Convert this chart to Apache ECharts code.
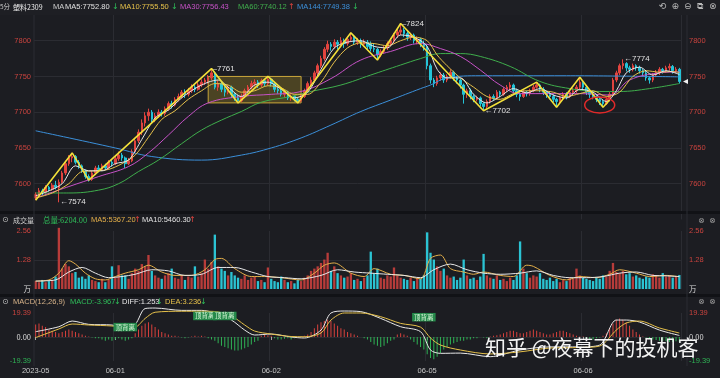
<!DOCTYPE html>
<html><head><meta charset="utf-8">
<script src="https://cdn.jsdelivr.net/npm/echarts@6/dist/echarts.min.js"></script>
<style>html,body{margin:0;padding:0;background:#1c1d22;}#c{width:720px;height:378px;}</style>
</head><body><div id="c"></div><script>
// ---------- data ----------
const dayStarts = [0, 24, 71, 118, 165];
const dayLabels = ['2023-05', '06-01', '06-02', '06-05', '06-06'];
// [open, close, low, high] per 5-minute bar
const candles = [
[7580,7585,7577,7588],[7585,7590,7583,7594],[7590,7588,7584,7593],[7588,7595,7586,7598],[7595,7592,7589,7597],
[7592,7598,7590,7601],[7598,7595,7592,7604],[7594,7602,7574,7606],[7602,7615,7600,7618],[7615,7628,7612,7632],
[7628,7636,7625,7640],[7636,7638,7630,7643],[7638,7630,7627,7640],[7630,7625,7621,7633],[7625,7618,7615,7627],
[7618,7610,7607,7620],[7610,7606,7603,7613],[7606,7615,7604,7618],[7615,7622,7612,7625],[7622,7620,7616,7626],
[7620,7625,7618,7628],[7625,7622,7619,7628],[7622,7630,7620,7633],[7630,7628,7624,7634],[7628,7635,7626,7639],
[7635,7640,7632,7645],[7640,7636,7632,7643],[7636,7628,7622,7638],[7628,7632,7626,7636],[7632,7645,7630,7648],
[7645,7660,7643,7663],[7660,7672,7657,7676],[7672,7685,7668,7690],[7685,7695,7680,7700],[7695,7700,7688,7705],
[7700,7690,7686,7703],[7690,7695,7686,7699],[7695,7700,7692,7704],[7700,7698,7694,7703],[7698,7705,7695,7708],
[7705,7712,7702,7715],[7712,7710,7705,7716],[7710,7718,7708,7721],[7718,7722,7715,7726],[7722,7728,7719,7731],
[7728,7725,7720,7732],[7725,7730,7722,7734],[7730,7735,7727,7739],[7735,7732,7728,7738],[7732,7738,7730,7742],
[7738,7742,7735,7746],[7742,7745,7738,7748],[7745,7748,7740,7752],[7748,7755,7745,7761],[7755,7735,7732,7757],
[7735,7740,7730,7744],[7740,7732,7728,7743],[7732,7728,7722,7736],[7728,7735,7725,7738],[7735,7725,7720,7737],
[7725,7720,7716,7728],[7720,7716,7713,7724],[7716,7722,7714,7726],[7722,7730,7720,7733],[7730,7735,7727,7738],
[7735,7740,7732,7744],[7740,7742,7736,7746],[7742,7738,7734,7745],[7738,7744,7735,7747],[7744,7740,7736,7746],
[7740,7746,7737,7750],[7746,7740,7736,7748],[7740,7732,7728,7742],[7732,7730,7726,7735],[7730,7725,7722,7733],
[7725,7728,7721,7731],[7728,7720,7717,7730],[7720,7722,7716,7725],[7722,7718,7715,7724],[7718,7716,7713,7721],
[7716,7722,7714,7725],[7722,7730,7720,7733],[7730,7740,7728,7743],[7740,7745,7736,7749],[7745,7755,7742,7758],
[7755,7765,7752,7768],[7765,7775,7762,7779],[7775,7788,7772,7791],[7788,7795,7784,7800],[7795,7792,7786,7798],
[7792,7798,7789,7802],[7798,7795,7788,7801],[7795,7800,7792,7805],[7800,7796,7790,7803],[7796,7802,7793,7806],
[7802,7805,7798,7811],[7805,7798,7794,7807],[7798,7800,7794,7804],[7800,7795,7790,7803],[7795,7798,7791,7802],
[7798,7792,7788,7801],[7796,7789,7785,7799],[7789,7788,7784,7796],[7788,7780,7773,7790],[7780,7785,7777,7788],
[7785,7790,7782,7793],[7790,7796,7787,7799],[7796,7800,7792,7804],[7800,7808,7797,7811],[7808,7812,7804,7816],
[7812,7815,7808,7824],[7815,7810,7805,7818],[7810,7805,7800,7813],[7805,7808,7801,7811],[7808,7800,7796,7810],
[7800,7802,7795,7806],[7802,7796,7791,7804],[7796,7792,7786,7800],[7792,7765,7760,7795],[7765,7745,7740,7768],
[7745,7740,7735,7748],[7740,7748,7737,7751],[7748,7752,7744,7756],[7752,7745,7741,7755],[7745,7750,7742,7753],
[7750,7756,7747,7760],[7756,7748,7744,7758],[7748,7745,7740,7751],[7745,7738,7733,7747],[7738,7725,7712,7740],
[7725,7730,7720,7733],[7730,7722,7718,7733],[7722,7718,7714,7725],[7718,7720,7715,7723],[7720,7712,7708,7722],
[7712,7708,7702,7714],[7708,7715,7705,7718],[7715,7722,7712,7725],[7722,7720,7716,7725],[7720,7728,7718,7731],
[7728,7725,7721,7730],[7725,7732,7723,7735],[7732,7735,7728,7738],[7735,7738,7731,7742],[7738,7730,7726,7740],
[7730,7725,7721,7733],[7725,7722,7716,7728],[7722,7728,7720,7731],[7728,7726,7722,7730],[7726,7730,7723,7733],
[7730,7735,7728,7738],[7735,7738,7733,7742],[7738,7732,7728,7740],[7732,7728,7724,7735],[7728,7725,7720,7730],
[7725,7722,7718,7728],[7722,7718,7714,7725],[7718,7715,7707,7720],[7715,7720,7712,7723],[7720,7725,7717,7728],
[7725,7722,7718,7728],[7722,7728,7720,7731],[7728,7730,7725,7734],[7730,7735,7727,7738],[7735,7742,7732,7749],
[7742,7735,7731,7744],[7735,7728,7724,7738],[7728,7725,7720,7730],[7725,7722,7718,7728],[7722,7718,7714,7724],
[7718,7715,7710,7720],[7715,7712,7707,7717],[7712,7718,7710,7721],[7718,7725,7715,7728],[7725,7745,7723,7748],
[7745,7755,7742,7758],[7755,7765,7752,7768],[7765,7768,7760,7774],[7768,7762,7757,7770],[7762,7760,7755,7765],
[7760,7765,7757,7768],[7765,7762,7758,7767],[7762,7758,7754,7765],[7758,7755,7750,7761],[7755,7748,7744,7758],
[7748,7745,7740,7750],[7745,7752,7742,7755],[7752,7756,7749,7759],[7756,7760,7752,7763],[7760,7758,7754,7762],
[7758,7762,7755,7765],[7762,7764,7758,7768],[7764,7758,7754,7766],[7758,7760,7755,7763],[7760,7743,7740,7762]
];
// volume, in 10k lots (万)
const volumes = [
.35,.3,.4,.3,.35,.4,.55,2.7,.9,1.1, 1.0,.7,.75,.5,.55,.45,.6,.4,.35,.3,
.45,.3,.4,1.0,.5,1.05,.6,.6,.45,.7, .9,.8,1.1,1.0,1.5,.8,.6,.5,.45,.6,
.7,.9,.5,.45,.6,.4,.55,.5,1.0,.55, .7,1.3,.9,1.2,2.4,1.0,.9,.8,.6,.75,
.6,.5,.45,.6,.4,.5,.55,.35,.4,.3, .95,.45,.35,.3,.55,.4,.3,.35,.25,.4,
.35,.5,.6,.8,.9,1.0,1.15,1.3,1.6,.8, 1.0,.7,.6,.5,.55,.7,.4,.45,.35,.5,
.6,1.65,.7,.9,.5,.45,.6,.55,.95,.6, .5,.45,.4,.5,.35,.5,.45,.6,2.5,1.6,
1.3,1.0,.8,.9,.6,.5,.55,.4,.5,1.3, .6,.45,.5,.4,.55,1.55,.6,.5,.45,.6,
.4,.45,.35,.5,.4,.6,2.1,.9,.7,.5, .6,.55,.7,.45,.4,.5,.35,.45,.3,.4,
.35,.5,.45,.9,.6,.5,.45,.4,.35,.5, .45,.6,.55,.8,1.15,.75,.7,.8,.65,.7,
.55,.6,.5,.45,.55,.5,.65,.6,.5,.7, .55,.6,.5,.55,.62
];
const macdHist = [
10,11,9,8, 6,5,4, 3,4,5,6,5,4,3,2, 1,.5,-.5,-1,-1,
-2,-3,-2,-3,-2,-1,-2,-3,-2,-1, 3,6,9,11,12,10,8,6,4,3,
2,1,1,.5,-.5,-1,-.5,.5,1,.5, 1,.5,-1,-2,
-3,-5,-7,-8,-9,-10,-11,-11,-10,-9,-8,-6,-4,-3, 1,2,1.5,1,
-1,-2,-2,-1.5,-1,-2,-1,-.5, .5,1,2,
4,7,10,12,13,14,13,11,9,7,6,4,3,2, 1,0,-1,-2,
-4,-6,-7,-8,-7,-5,-3,-2, 2,3,2,1, -2,-4,-6,-8,-10,
-14,-17,-18,-16,-13,-10,-8, -6,-5,-4,-3,-3,-2,-2,-1,-1, 0,-.5,-1,.5,1,1.5,
2,3,4,5,5,4,3,3,4,5,6,5,4,3,2,2,3,4,5,5,4,3,2,1,.5,.5,-1,-2,-2,-1,-.5,
1,3,7,11,14,15,14,12,9,6,4,2, .5,-.5,-1,-2,-2.5,-3,-3,-3.5,-4,-4,-3.5,-4
];
const diffLine = [[0,4.3],[7,8.3],[11,12.9],[16,10.2],[23,9.7],[27,7],[30,10.2],[33,23],[36,23.4],[44,21.5],[50,21.5],[54,19.4],[59,13.7],[63,5.6],[66,1.6],[71,2.4],[77,0],[81,-0.8],[86,5.6],[89,19.4],[93,21],[98,20.5],[104,15],[110,8.3],[116,4.3],[119,-10.5],[122,-13.2],[128,-13],[137,-15.9],[146,-10.5],[155,-8],[164,-8],[170,-6.5],[175,13.7],[178,13.7],[182,12.1],[188,5.6],[194,1.25]];
const deaLine = [[0,-0.5],[7,6.5],[11,10.5],[16,9.7],[23,8.9],[27,7.7],[30,8],[33,15],[36,20],[44,20.8],[50,20.8],[54,20.6],[59,17],[63,9.7],[66,4.8],[71,2.4],[77,0.4],[81,0.2],[86,3.2],[89,13.7],[93,19.4],[98,19.4],[104,16.4],[110,11],[116,8],[119,-0.8],[122,-6.5],[128,-10.5],[137,-13.7],[146,-12],[155,-8.9],[164,-8.5],[170,-7.3],[175,5.6],[178,11.3],[182,12.9],[188,7.3],[194,3.24]];
const ma5 = [[0,7583],[4,7590],[8,7600],[12,7625],[16,7618],[20,7618],[24,7628],[28,7633],[32,7662],[36,7692],[40,7703],[44,7720],[48,7733],[52,7742],[55,7745],[58,7735],[62,7722],[66,7738],[70,7742],[74,7732],[78,7720],[82,7728],[86,7760],[90,7790],[94,7798],[98,7800],[102,7792],[106,7790],[110,7808],[114,7805],[118,7792],[121,7760],[124,7748],[128,7748],[132,7725],[136,7713],[140,7722],[144,7733],[148,7727],[152,7733],[156,7724],[160,7720],[164,7732],[168,7728],[172,7715],[175,7730],[178,7755],[182,7763],[186,7752],[190,7758],[194,7752.8]];
const ma10 = [[0,7580],[5,7587],[10,7600],[14,7617],[18,7618],[22,7620],[26,7628],[30,7640],[34,7665],[38,7690],[42,7702],[46,7718],[50,7730],[54,7740],[58,7738],[62,7728],[66,7730],[70,7737],[74,7734],[78,7725],[82,7725],[86,7742],[90,7770],[94,7790],[98,7797],[102,7796],[106,7793],[110,7800],[114,7805],[118,7800],[121,7780],[124,7765],[128,7748],[132,7735],[136,7722],[140,7718],[144,7726],[148,7730],[152,7730],[156,7728],[160,7722],[164,7726],[168,7730],[172,7722],[176,7728],[180,7750],[184,7758],[188,7756],[192,7757],[194,7755.5]];
const ma30 = [[0,7580],[10,7596],[19,7610],[28,7624],[34,7643],[40,7668],[46,7694],[52,7713],[62,7722],[71,7725],[80,7729],[89,7747],[98,7773],[107,7785],[116,7796],[122,7789],[128,7778],[134,7759],[140,7738],[146,7726],[164,7726],[173,7724],[179,7745],[188,7755],[194,7756.4]];
const ma60 = [[0,7587],[10,7587],[19,7591],[25,7600],[31,7617],[37,7633],[44,7656],[50,7675],[56,7689],[62,7701],[68,7714],[77,7722],[83,7729],[92,7738],[101,7752],[110,7766],[116,7775],[122,7782],[128,7782],[134,7778],[143,7764],[152,7743],[161,7733],[170,7729],[176,7729],[185,7733],[194,7740.1]];
const ma144 = [[0,7674],[24,7650],[35,7638],[50,7633],[62,7640],[71,7650],[80,7664],[89,7682],[98,7701],[107,7717],[116,7733],[119,7738],[124,7748],[134,7751],[160,7751],[194,7749.4]];
const volMa5 = [[0,.35],[4,.4],[7,.7],[10,1.25],[12,1.1],[15,.7],[18,.45],[21,.4],[24,.55],[27,.7],[31,.85],[34,1.05],[38,.75],[42,.6],[47,.6],[51,.85],[54,1.3],[56,1.35],[60,.9],[65,.55],[69,.55],[74,.5],[80,.4],[84,.7],[87,1.05],[90,1.15],[95,.7],[99,.55],[102,.9],[107,.65],[111,.6],[116,.45],[119,1.35],[122,1.5],[125,.9],[129,.75],[132,.65],[135,.75],[140,.6],[144,.55],[148,1.05],[150,1.0],[155,.6],[160,.4],[164,.55],[169,.5],[173,.65],[176,.85],[181,.7],[185,.55],[190,.6],[194,.54]];
const volMa10 = [[0,.35],[6,.4],[10,.75],[14,.95],[18,.7],[22,.5],[26,.55],[30,.65],[35,.85],[40,.8],[45,.6],[50,.65],[55,.95],[60,.95],[65,.75],[70,.55],[75,.5],[80,.45],[86,.6],[91,.85],[96,.75],[101,.7],[106,.65],[111,.6],[116,.5],[120,.85],[125,1.1],[130,.85],[135,.7],[140,.65],[146,.7],[151,.8],[156,.6],[161,.5],[166,.5],[171,.55],[176,.7],[181,.75],[186,.6],[190,.58],[194,.55]];
// hand-drawn annotations (category index, price)
const zigzag = [[0,7577],[11,7643],[16,7605],[53,7761],[61,7713],[70,7750],[79,7713],[95,7811],[103,7773],[110,7824],[135,7702],[151,7742],[157,7707],[164,7749],[171,7707],[173,7717]];
const boxRange = [[52,7750],[80,7713]];
const extremes = [[7,7574,'←7574'],[53,7761,'–7761'],[110,7824,'–7824'],[135,7702,'←7702'],[177,7774,'←7774']];
const circleAt = [170,7710];
const lastPrice = [194,7743];
const divergenceTags = [[27,8],[51,17],[57,17],[117,16]];
const divergenceLine = [[90,19.8],[114,19.8]];

// ---------- chart ----------
const FONT = "'Liberation Sans', 'Noto Sans CJK SC', sans-serif";
const CJK = "'Noto Sans CJK SC', sans-serif";
const UP = '#e2443f', DOWN = '#25c4d8', GRIDC = '#2b2c32', RED = '#c8433e', GREEN = '#2fb355';
const categories = candles.map((c, i) => String(i));
const chart = echarts.init(document.getElementById('c'), null, {renderer: 'canvas'});

const grids = [
  {left: 34, width: 647, top: 4.95, height: 214.5},
  {left: 34, width: 647, top: 231, height: 58},
  {left: 34, width: 647, top: 313, height: 48}
];
function xAx(gi, show) {
  return {type: 'category', gridIndex: gi, data: categories, boundaryGap: true,
    axisLine: {show: false},
    axisTick: {show: show, alignWithLabel: true, interval: (i) => dayStarts.includes(i), length: 3, lineStyle: {color: '#aaa'}},
    axisLabel: {show: show, interval: (i) => dayStarts.includes(i), formatter: (v, i) => { const k = dayStarts.indexOf(i); return k >= 0 ? dayLabels[k] : ''; },
      color: '#c8c8c8', fontSize: 7.5, margin: 6, fontFamily: FONT},
    splitLine: {show: true, interval: (i) => dayStarts.includes(i) && i > 0, lineStyle: {color: GRIDC, width: 1}}};
}
const rich = {r: {color: RED, fontSize: 7.5, fontFamily: FONT}, w: {color: '#dcdcdc', fontSize: 7.5, fontFamily: CJK}, g: {color: GREEN, fontSize: 7.5, fontFamily: FONT}};
function yAx(gi, pos, min, max, interval, fmt, split, margin) {
  return {type: 'value', gridIndex: gi, position: pos, min, max, interval,
    axisLine: {show: false}, axisTick: {show: false},
    axisLabel: {formatter: fmt, fontSize: 7.5, margin, fontFamily: FONT, color: RED, rich},
    splitLine: {show: split, showMinLine: false, showMaxLine: false, lineStyle: {color: GRIDC}}};
}
const priceFmt = (v) => (v < 7600 || v > 7800) ? '' : '{r|' + v + '}';
const volFmt = (v) => v === 0 ? '{w|万}' : '{r|' + v.toFixed(2) + '}';
const macdFmt = (v) => Math.abs(v) < 1e-6 ? '{w|0.00}' : (v > 0 ? '{r|' + v.toFixed(2) + '}' : '{g|' + v.toFixed(2) + '}');

function maLine(name, data, color, xi, smooth) {
  return {name, type: 'line', xAxisIndex: xi, yAxisIndex: xi * 2, data, showSymbol: false, symbol: 'none', smooth: smooth,
    lineStyle: {color, width: 1}, z: 3, clip: xi !== 0 ? false : true, silent: true};
}

const option = {
  backgroundColor: '#1c1d22',
  animation: false,
  grid: grids,
  xAxis: [xAx(0, false), xAx(1, false), xAx(2, true)],
  yAxis: [
    yAx(0, 'left', 7550, 7850, 50, priceFmt, true, 3),
    yAx(0, 'right', 7550, 7850, 50, priceFmt, false, 8),
    yAx(1, 'left', 0, 2.56, 1.28, volFmt, true, 3),
    yAx(1, 'right', 0, 2.56, 1.28, volFmt, false, 8),
    yAx(2, 'left', -19.39, 19.39, 19.39, macdFmt, true, 3),
    yAx(2, 'right', -19.39, 19.39, 19.39, macdFmt, false, 8)
  ],
  series: [
    {type: 'candlestick', xAxisIndex: 0, yAxisIndex: 0, data: candles, barWidth: '62%',
      itemStyle: {color: UP, color0: DOWN, borderColor: UP, borderColor0: DOWN, borderWidth: 1},
      markArea: {silent: true, itemStyle: {color: 'rgba(185,155,40,0.30)', borderColor: '#c9a63a', borderWidth: 1},
        data: [[{coord: boxRange[0]}, {coord: boxRange[1]}]]},
      markPoint: {symbol: 'circle', symbolSize: 0, silent: true,
        label: {show: true, position: 'right', distance: 1, color: '#e0e0e0', fontSize: 8, fontFamily: FONT},
        data: extremes.map(e => ({coord: [e[0], e[1]], label: {formatter: e[2]}}))}
    },
    maLine('MA144', ma144, '#3b8fd9', 0, 0.4),
    maLine('MA60', ma60, '#3fae4c', 0, 0.4),
    maLine('MA30', ma30, '#c752c7', 0, 0.4),
    maLine('MA10', ma10, '#e5c04a', 0, 0.3),
    maLine('MA5', ma5, '#e8e8e8', 0, 0.3),
    {type: 'line', xAxisIndex: 0, yAxisIndex: 0, data: zigzag, symbol: 'none', lineStyle: {color: '#f3e03a', width: 1.6}, z: 5, silent: true},
    {type: 'bar', xAxisIndex: 1, yAxisIndex: 2, barWidth: '70%', clip: false,
      data: volumes.map((v, i) => ({value: v, itemStyle: {color: candles[i][1] >= candles[i][0] ? '#b83c3a' : '#2bc3d3'}}))},
    maLine('VMA5', volMa5, '#e5b04a', 1, 0.3),
    maLine('VMA10', volMa10, '#e8e8e8', 1, 0.3),
    {type: 'bar', xAxisIndex: 2, yAxisIndex: 4, barWidth: 1, clip: false,
      data: macdHist.map(v => ({value: v, itemStyle: {color: v >= 0 ? '#d8413d' : '#2fb355'}}))},
    Object.assign(maLine('DIFF', diffLine, '#e8e8e8', 2, 0.3), {
      markLine: {silent: true, symbol: 'none', label: {show: false}, lineStyle: {color: '#2fb355', width: 1, type: 'solid'},
        data: [[{coord: divergenceLine[0]}, {coord: divergenceLine[1]}]]},
      markPoint: {symbol: 'circle', symbolSize: 0, silent: true,
        label: {show: true, formatter: '顶背离', color: '#d8f5d8', backgroundColor: '#25894a', padding: [1, 2], fontSize: 6.5, fontFamily: CJK},
        data: divergenceTags.map(t => ({coord: t}))}
    }),
    maLine('DEA', deaLine, '#e5c04a', 2, 0.3)
  ]
};
chart.setOption(option);

// ---------- header texts & decorations ----------
function T(x, y, text, fill, size, font, extra) {
  return Object.assign({type: 'text', x, y, silent: true, z: 100,
    style: {text, fill, fontSize: size || 7.5, fontFamily: font || FONT, verticalAlign: 'middle'}}, extra || {});
}
const G = [];
G.push({type: 'rect', shape: {x: 0, y: 211, width: 720, height: 3}, style: {fill: '#111216'}, silent: true, z: 50});
G.push({type: 'rect', shape: {x: 0, y: 294, width: 720, height: 3}, style: {fill: '#111216'}, silent: true, z: 50});
G.push({type: 'rect', shape: {x: 0, y: 0, width: 720, height: 15}, style: {fill: '#1e1f24'}, silent: true, z: 49});
G.push({type: 'line', shape: {x1: 687, y1: 15, x2: 687, y2: 366}, style: {stroke: GRIDC, lineWidth: 1}, silent: true, z: 50});
G.push({type: 'line', shape: {x1: 34, y1: 15, x2: 34, y2: 366}, style: {stroke: GRIDC, lineWidth: 1}, silent: true, z: 50});
// main header
G.push(T(0, 7, '5分', '#cfcfcf', 6.5, CJK));
G.push(T(13, 7, '塑料2309', '#eeeeee', 7, CJK));
G.push(T(53, 7, 'MA', '#cfcfcf'));
G.push(T(65, 7, 'MA5:7752.80', '#e0e0e0'));
G.push(T(112, 7, '↓', '#2fbf5a', 8, "'DejaVu Sans'"));
G.push(T(120, 7, 'MA10:7755.50', '#e5c04a'));
G.push(T(171, 7, '↓', '#2fbf5a', 8, "'DejaVu Sans'"));
G.push(T(180, 7, 'MA30:7756.43', '#c752c7'));
G.push(T(238, 7, 'MA60:7740.12', '#3fae4c'));
G.push(T(288, 7, '↑', '#e2443f', 8, "'DejaVu Sans'"));
G.push(T(297, 7, 'MA144:7749.38', '#3b8fd9'));
G.push(T(352, 7, '↓', '#2fbf5a', 8, "'DejaVu Sans'"));
['⟲', '⊕', '⊖', '⧉', '⊗'].forEach((s, k) => G.push(T(659 + k * 12.5, 7, s, '#b8b8b8', 9, "'DejaVu Sans'")));
// volume header
G.push(T(2, 220, '⊙', '#bbbbbb', 8, "'DejaVu Sans'"));
G.push(T(13, 220, '成交量', '#cfcfcf', 7, CJK));
G.push(T(43, 220, '总量:6204.00', '#2fbf5a', 7.5, CJK));
G.push(T(91, 220, 'MA5:5367.20', '#e5b04a'));
G.push(T(134, 220, '↑', '#e2443f', 8, "'DejaVu Sans'"));
G.push(T(142, 220, 'MA10:5460.30', '#e0e0e0'));
G.push(T(189, 220, '↑', '#e2443f', 8, "'DejaVu Sans'"));
G.push(T(698, 221, '⊗', '#9a9a9a', 8, "'DejaVu Sans'"));
G.push(T(709, 221, '⊗', '#9a9a9a', 8, "'DejaVu Sans'"));
// macd header
G.push(T(2, 302, '⊙', '#bbbbbb', 8, "'DejaVu Sans'"));
G.push(T(13, 302, 'MACD(12,26,9)', '#d8b48a'));
G.push(T(70, 302, 'MACD:-3.967', '#2fbf5a'));
G.push(T(114, 302, '↓', '#2fbf5a', 8, "'DejaVu Sans'"));
G.push(T(122, 302, 'DIFF:1.253', '#e8e8e8'));
G.push(T(156, 302, '↓', '#2fbf5a', 8, "'DejaVu Sans'"));
G.push(T(165, 302, 'DEA:3.236', '#e5c04a'));
G.push(T(200, 302, '↓', '#2fbf5a', 8, "'DejaVu Sans'"));
G.push(T(698, 302, '⊗', '#9a9a9a', 8, "'DejaVu Sans'"));
G.push(T(709, 302, '⊗', '#9a9a9a', 8, "'DejaVu Sans'"));
// red ellipse & last price marker from data coordinates
const pc = chart.convertToPixel({xAxisIndex: 0, yAxisIndex: 0}, circleAt);
G.push({type: 'ellipse', shape: {cx: pc[0], cy: pc[1], rx: 15, ry: 8}, style: {fill: 'none', stroke: '#e02a2a', lineWidth: 1.5}, silent: true, z: 60});
const pl = chart.convertToPixel({xAxisIndex: 0, yAxisIndex: 0}, lastPrice);
G.push({type: 'polygon', shape: {points: [[683, pl[1]], [688, pl[1] - 2.5], [688, pl[1] + 2.5]]}, style: {fill: '#f0f0f0'}, silent: true, z: 60});
// watermark
G.push({type: 'text', x: 485, y: 347, z: 200, silent: true,
  style: {text: '知乎 @夜幕下的投机客', fill: 'rgba(255,255,255,0.95)', fontSize: 21, fontFamily: CJK, verticalAlign: 'middle',
    shadowColor: 'rgba(0,0,0,0.6)', shadowBlur: 2}});
chart.setOption({graphic: G});
</script></body></html>
